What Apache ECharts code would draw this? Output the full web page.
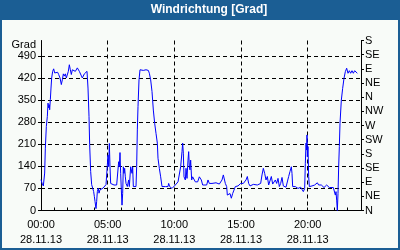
<!DOCTYPE html>
<html>
<head>
<meta charset="utf-8">
<script src="https://cdn.jsdelivr.net/npm/echarts@6/dist/echarts.min.js"></script>
<style>
html,body{margin:0;padding:0;background:#1b5e94;}
#c{width:400px;height:250px;}
</style>
</head>
<body>
<div id="c"></div>
<script>
var titleText = 'Windrichtung [Grad]';
var yName = 'Grad';
var dateLabel = '28.11.13';
var dirLabels = ['N','NE','E','SE','S','SW','W','NW','N','NE','E','SE','S'];

var hours = [
  0,0.075,0.175,0.25,0.275,0.325,0.4,0.475,0.525,0.575,
  0.625,0.65,0.7,0.75,0.8,0.875,0.95,1.025,1.1,1.175,
  1.25,1.325,1.425,1.525,1.6,1.675,1.75,1.825,1.9,1.975,
  2.05,2.125,2.2,2.275,2.35,2.425,2.5,2.575,2.65,2.725,
  2.8,2.875,2.95,3.025,3.1,3.175,3.25,3.35,3.45,3.525,
  3.6,3.65,3.725,3.8,3.875,3.95,4.0,4.05,4.125,4.175,
  4.225,4.3,4.35,4.425,4.5,4.575,4.65,4.725,4.8,4.875,
  4.925,5.025,5.075,5.125,5.175,5.225,5.3,5.475,5.675,5.775,
  5.825,5.875,5.925,5.975,6.025,6.075,6.125,6.175,6.225,6.275,
  6.325,6.375,6.475,6.575,6.625,6.725,6.825,6.875,6.925,7.025,
  7.125,7.175,7.225,7.275,7.35,7.425,7.5,7.575,7.675,7.775,
  7.875,7.975,8.05,8.125,8.225,8.325,8.425,8.525,8.625,8.725,
  8.775,8.875,8.975,9.075,9.175,9.325,9.425,9.525,9.575,9.65,
  9.725,9.825,9.875,9.975,10.075,10.175,10.275,10.375,10.475,10.575,
  10.625,10.675,10.725,10.825,10.875,10.95,11.025,11.075,11.125,11.175,
  11.225,11.3,11.375,11.475,11.575,11.675,11.75,11.875,
  11.925,12.025,12.125,12.275,12.425,12.525,12.625,12.725,12.825,12.975,
  13.125,13.275,13.375,13.475,13.575,13.675,13.775,13.825,13.925,13.975,
  14.025,14.125,14.175,14.275,14.375,14.475,14.575,14.675,14.775,14.875,
  14.975,15.075,15.175,15.275,15.375,15.475,15.575,15.675,15.775,15.925,
  16.075,16.225,16.375,16.475,16.575,16.675,16.775,16.875,16.975,17.075,
  17.175,17.275,17.375,17.475,17.575,17.675,17.775,17.875,17.975,18.075,
  18.175,18.275,18.375,18.475,18.575,18.675,18.775,18.825,18.875,18.975,
  19.075,19.175,19.275,19.375,19.475,19.575,19.675,19.775,19.825,19.875,
  19.925,19.95,19.975,20.025,20.075,20.125,20.225,20.325,20.425,20.525,
  20.625,20.725,20.825,20.925,21.025,21.125,21.225,21.325,21.425,21.525,
  21.625,21.775,21.925,22.025,22.075,22.125,22.175,22.225,22.275,22.325,
  22.375,22.425,22.525,22.625,22.725,22.825,22.925,23.025,23.125,23.225,
  23.325,23.425,23.525,23.625,23.725
];
var degrees = [
  98,87,78,76,119,198,267,299,341,326,
  336,320,352,389,421,442,450,437,442,434,
  439,432,421,400,415,434,427,434,421,427,
  442,463,447,432,447,442,447,442,444,453,
  447,442,437,442,421,421,434,439,442,389,
  299,209,124,82,76,60,45,29,6,29,
  60,71,55,66,71,69,71,68,76,82,
  86,176,139,213,139,86,81,81,81,81,
  155,139,184,118,65,17,54,139,118,134,
  107,86,76,97,76,139,118,139,76,70,
  76,139,256,330,415,447,449,445,445,449,
  447,441,445,436,415,378,319,277,245,214,
  166,134,107,76,73,76,73,76,86,76,
  70,70,65,70,81,86,91,97,139,187,
  214,182,107,97,134,102,160,187,139,129,
  160,97,107,102,91,86,91,107,
  105,97,81,78,81,97,86,81,86,84,
  88,92,84,81,97,113,118,86,76,49,
  54,44,54,39,54,65,76,81,78,81,
  86,81,86,92,97,108,86,78,84,83,
  84,81,84,86,113,134,118,97,108,81,
  86,108,84,81,97,86,102,76,86,105,
  78,76,74,76,108,124,139,118,76,70,
  76,76,70,76,74,67,60,70,150,214,
  192,240,171,203,108,76,76,78,76,81,
  84,88,81,76,81,76,73,78,81,76,
  73,73,73,70,49,60,33,0,54,139,
  203,277,351,388,420,441,452,436,444,436,
  444,436,444,441,436
];

var pts = hours.map(function(h, i){ return [h, degrees[i]]; });
function pad(n){ return (n < 10 ? '0' : '') + n; }
var font = 'Liberation Sans';

var chart = echarts.init(document.getElementById('c'), null, {renderer:'canvas'});
chart.setOption({
  backgroundColor: '#1b5e94',
  animation: false,
  graphic: [
    {type:'rect', z:-10, shape:{x:2, y:20, width:396, height:228}, style:{fill:'#f8fbf8'}, silent:true},
    {type:'text', x:209, y:10, style:{text:titleText, fill:'#ffffff', font:'bold 12px "Liberation Sans"', align:'center', verticalAlign:'middle'}}
  ],
  grid: {left:41, right:39, top:40.5, bottom:39.5, containLabel:false},
  xAxis: [
    {type:'value', min:0, max:24, interval:5, position:'bottom',
     axisLine:{show:true, onZero:false, lineStyle:{color:'#000', width:1}},
     axisTick:{show:false},
     axisLabel:{show:true, margin:7, color:'#000', fontFamily:font, fontSize:11, lineHeight:15,
       showMaxLabel:false,
       formatter:function(v){ if (v % 5 !== 0 || v >= 24) return ''; return pad(v) + ':00\n' + dateLabel; }},
     splitLine:{show:true, showMinLine:false, showMaxLine:false, lineStyle:{color:'#000', type:[4,3], width:1}}
    },
    {type:'value', min:0, max:24, interval:1, position:'bottom',
     axisLine:{show:false, onZero:false},
     axisTick:{show:true, inside:true, length:3, lineStyle:{color:'#000'}},
     axisLabel:{show:false}, splitLine:{show:false}
    }
  ],
  yAxis: [
    {type:'value', min:0, max:540, interval:70, position:'left',
     name:yName, nameLocation:'end', nameGap:-5.5,
     nameTextStyle:{color:'#000', fontFamily:font, fontSize:11, align:'right', verticalAlign:'middle', padding:[0,5,0,0]},
     axisLine:{show:true, onZero:false, lineStyle:{color:'#000'}},
     axisTick:{show:true, length:3, lineStyle:{color:'#000'}},
     axisLabel:{color:'#000', fontFamily:font, fontSize:11, margin:5, showMaxLabel:false,
       formatter:function(v){ return v % 70 === 0 ? String(v) : ''; }},
     splitLine:{show:true, showMinLine:false, showMaxLine:false, lineStyle:{color:'#000', type:[4,3], width:1}}
    },
    {type:'value', min:0, max:540, interval:45, position:'right',
     axisLine:{show:true, onZero:false, lineStyle:{color:'#000'}},
     axisTick:{show:true, length:3, lineStyle:{color:'#000'}},
     axisLabel:{color:'#000', fontFamily:font, fontSize:11, margin:4,
       formatter:function(v){ return dirLabels[Math.round(v/45)]; }},
     splitLine:{show:false}
    }
  ],
  series: [{
    type:'line', xAxisIndex:0, yAxisIndex:0, data:pts, showSymbol:false, symbol:'none',
    lineStyle:{color:'#0000ff', width:1}, z:5
  }]
});
</script>
</body>
</html>
